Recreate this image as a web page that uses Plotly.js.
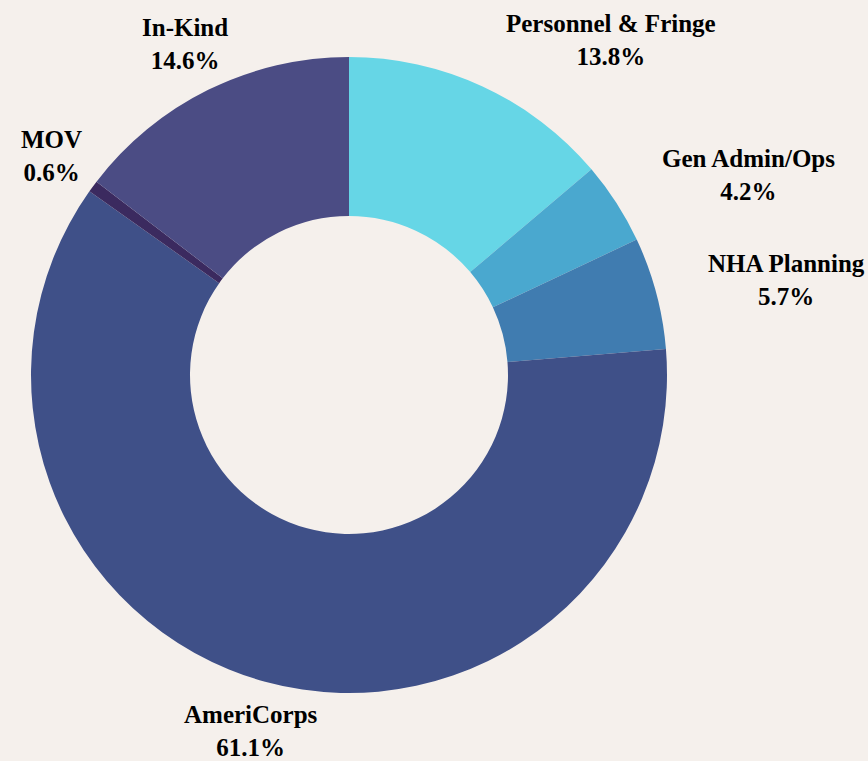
<!DOCTYPE html>
<html>
<head>
<meta charset="utf-8">
<script src="https://cdn.plot.ly/plotly-3.0.1.min.js"></script>
<style>html,body{margin:0;padding:0;background:#f5f0ec;}</style>
</head>
<body>
<div id="chart" style="width:868px;height:761px;"></div>
<script>
const categories = ["Personnel & Fringe", "Gen Admin/Ops", "NHA Planning", "AmeriCorps", "MOV", "In-Kind"];
const shares = [13.8, 4.2, 5.7, 61.1, 0.6, 14.6];
const sliceColors = ["#66d6e6", "#4aa8cf", "#407cb0", "#3f5088", "#3b2a5f", "#4b4c84"];

// label placement: at slice mid-angle, just outside the ring
const total = shares.reduce((a, b) => a + b, 0);
const labelRadius = 1.162;
let cum = 0;
const annotations = categories.map((name, i) => {
  const mid = (cum + shares[i] / 2) / total * 2 * Math.PI;
  cum += shares[i];
  const s = Math.sin(mid), c = Math.cos(mid);
  return {
    xref: "paper", yref: "paper",
    x: 0.5 + 0.5 * labelRadius * s,
    y: 0.5 + 0.5 * labelRadius * c,
    xanchor: s > 0.05 ? "left" : "center",
    yanchor: "middle",
    align: "center",
    showarrow: false,
    text: "<b>" + name + "</b><br><b>" + (shares[i] / total * 100).toFixed(1) + "%</b>",
    font: {family: "Liberation Serif, Times New Roman, serif", size: 25, color: "#000000"}
  };
});

Plotly.newPlot("chart", [{
  type: "pie",
  labels: categories,
  values: shares,
  hole: 0.5,
  sort: false,
  direction: "clockwise",
  rotation: 0,
  marker: {colors: sliceColors, line: {width: 0}},
  textinfo: "none",
  showlegend: false,
  hoverinfo: "none"
}], {
  width: 868,
  height: 761,
  paper_bgcolor: "#f5f0ec",
  plot_bgcolor: "#f5f0ec",
  margin: {l: 31, r: 201, t: 57, b: 68},
  showlegend: false,
  annotations: annotations
}, {displayModeBar: false, staticPlot: true});
</script>
</body>
</html>
